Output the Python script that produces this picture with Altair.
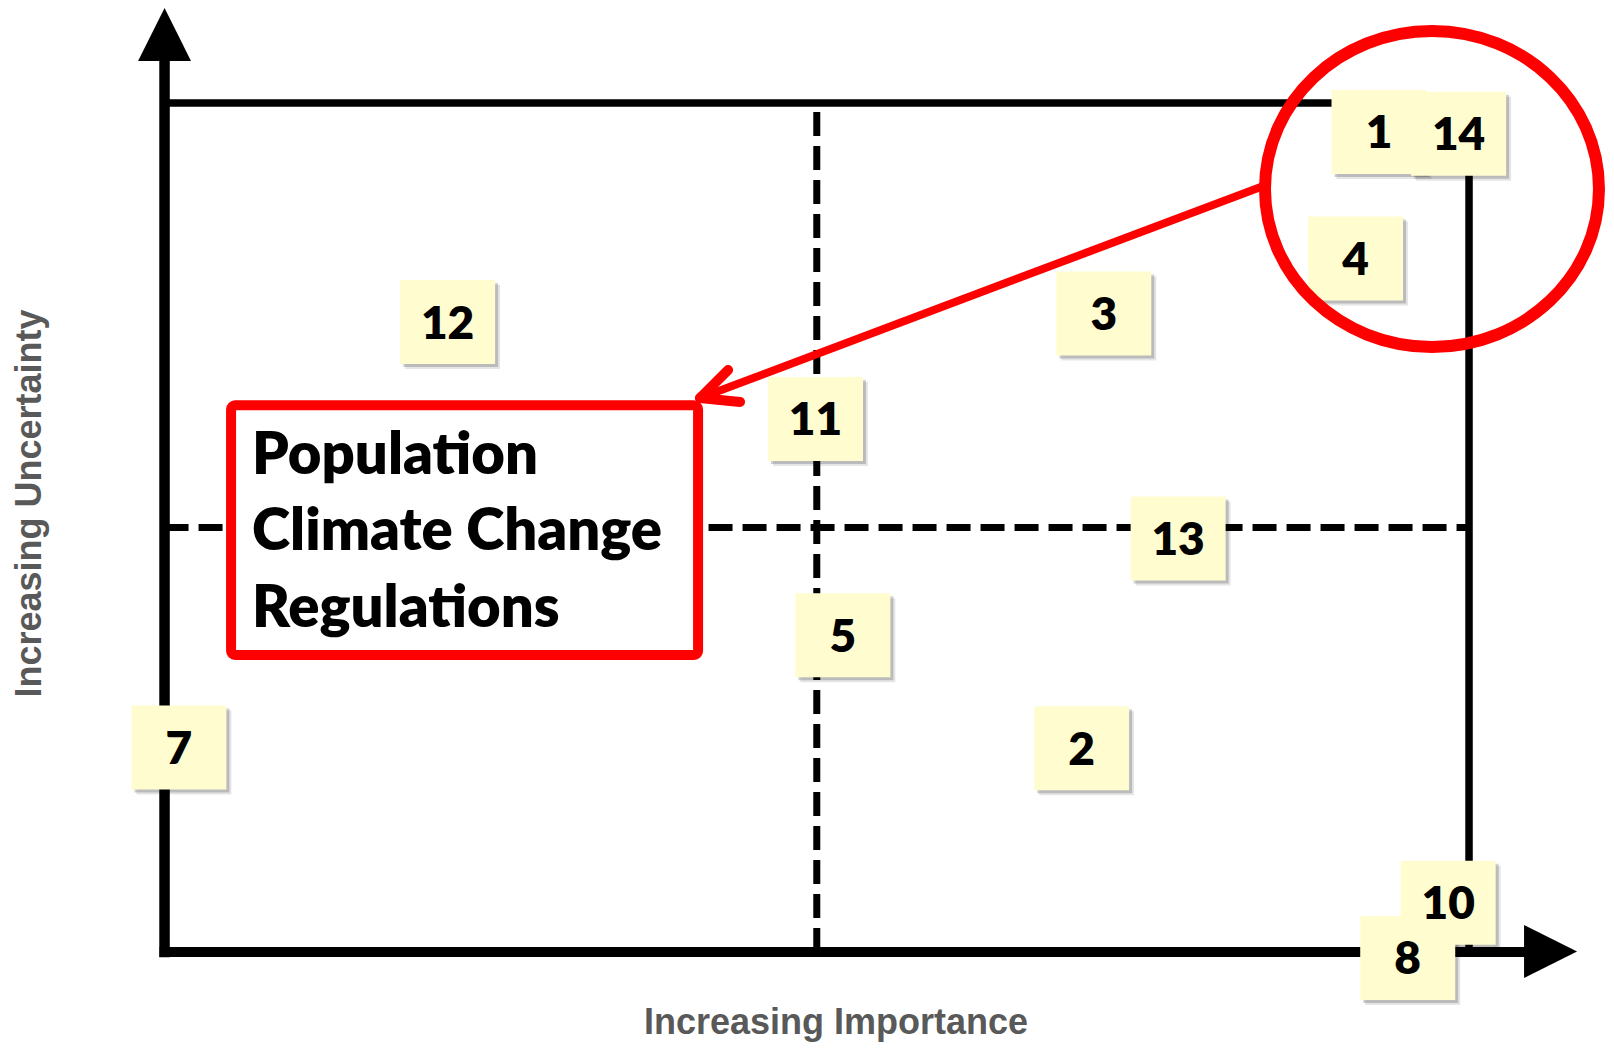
import altair as alt
import pandas as pd

# ---------------- data ----------------
note_labels = ["1", "14", "4", "3", "12", "11", "13", "5", "2", "7", "8", "10"]
note_importance = [9.31, 9.92, 9.13, 7.20, 2.17, 4.99, 7.77, 5.20, 7.03, 0.11, 9.53, 9.84]
note_uncertainty = [9.66, 9.64, 8.17, 7.52, 7.42, 6.28, 4.87, 3.73, 2.40, 2.41, -0.07, 0.58]

box_lines = ["Population", "Climate Change", "Regulations"]
box_line_y = [5.63, 4.74, 3.83]

x_title = "Increasing Importance"
y_title = "Increasing Uncertainty"

# ---------------- layout ----------------
W, H = 1598, 1034
X_DOMAIN = [-1.2, 11.05]
Y_DOMAIN = [-1.06, 11.12]
PX_X = W / (X_DOMAIN[1] - X_DOMAIN[0])
PX_Y = H / (Y_DOMAIN[1] - Y_DOMAIN[0])

xs = alt.Scale(domain=X_DOMAIN, nice=False, zero=False)
ys = alt.Scale(domain=Y_DOMAIN, nice=False, zero=False)

def X(f):
    return alt.X(f, type="quantitative", scale=xs, axis=None)

def Y(f):
    return alt.Y(f, type="quantitative", scale=ys, axis=None)

HW = 47.5 / PX_X
HH = 42.0 / PX_Y

notes = pd.DataFrame({"label": note_labels, "imp": note_importance, "unc": note_uncertainty})
notes["x1"] = notes["imp"] - HW
notes["x2"] = notes["imp"] + HW
notes["y1"] = notes["unc"] - HH
notes["y2"] = notes["unc"] + HH

def shadow(dx, dy):
    s = notes.copy()
    s["x1"] += dx / PX_X
    s["x2"] += dx / PX_X
    s["y1"] -= dy / PX_Y
    s["y2"] -= dy / PX_Y
    return s

# frame lines (solid)
frame = pd.DataFrame({
    "x": [0, 0, 0, 10], "x2": [0, 10.42, 10, 10],
    "y": [0, 0, 10, 0], "y2": [10.5, 0, 10, 10],
    "w": [10.5, 10, 7.5, 7.5],
})
frame_layer = alt.Chart(frame).mark_rule(color="black", strokeCap="square").encode(
    x=X("x"), x2="x2", y=Y("y"), y2="y2",
    strokeWidth=alt.StrokeWidth("w:Q", scale=None, legend=None),
)

dashed = pd.DataFrame({"x": [5, 0], "x2": [5, 10], "y": [0, 5], "y2": [10, 5]})
dash_layer = alt.Chart(dashed).mark_rule(color="black", strokeWidth=7, strokeDash=[24, 10]).encode(
    x=X("x"), x2="x2", y=Y("y"), y2="y2"
)

up_arrow = alt.Chart(pd.DataFrame({"x": [0], "y": [10.808]})).mark_point(
    shape="M0,-1L1,1L-1,1Z", size=2809, filled=True, color="black", opacity=1, strokeWidth=0
).encode(x=X("x"), y=Y("y"))

right_arrow = alt.Chart(pd.DataFrame({"x": [10.625], "y": [0.006]})).mark_point(
    shape="M1,0L-1,-1L-1,1Z", size=2809, filled=True, color="black", opacity=1, strokeWidth=0
).encode(x=X("x"), y=Y("y"))

# red box
box = pd.DataFrame({"x": [0.51], "x2": [4.09], "y": [3.50], "y2": [6.44]})
box_layer = alt.Chart(box).mark_rect(
    fill="white", stroke="#FF0000", strokeWidth=10, cornerRadius=4
).encode(x=X("x"), x2="x2", y=Y("y"), y2="y2")

box_text = pd.DataFrame({"t": box_lines, "x": [0.671] * 3, "y": box_line_y})
box_text_layer = alt.Chart(box_text).mark_text(
    font="Lato", fontWeight=800, fontSize=58, align="left", baseline="alphabetic", color="black"
).encode(x=X("x"), y=Y("y"), text="t:N")

# red arrow
shaft = pd.DataFrame({"x": [8.444], "x2": [4.105], "y": [9.035], "y2": [6.526]})
shaft_layer = alt.Chart(shaft).mark_rule(color="#FF0000", strokeWidth=8, strokeCap="round").encode(
    x=X("x"), x2="x2", y=Y("y"), y2="y2"
)
arms = pd.DataFrame({"x": [4.105, 4.105], "x2": [4.320, 4.412], "y": [6.526, 6.526], "y2": [6.856, 6.479]})
arms_layer = alt.Chart(arms).mark_rule(color="#FF0000", strokeWidth=10, strokeCap="round").encode(
    x=X("x"), x2="x2", y=Y("y"), y2="y2"
)

# notes
sh1 = alt.Chart(shadow(5, 5)).mark_rect(color="black", opacity=0.10).encode(
    x=X("x1"), x2="x2", y=Y("y1"), y2="y2")
sh2 = alt.Chart(shadow(3, 3)).mark_rect(color="black", opacity=0.18).encode(
    x=X("x1"), x2="x2", y=Y("y1"), y2="y2")
note_rect = alt.Chart(notes).mark_rect(color="#FFFDD0", opacity=1).encode(
    x=X("x1"), x2="x2", y=Y("y1"), y2="y2")
note_text = alt.Chart(notes).mark_text(
    font="Lato", fontWeight=800, fontSize=46, align="center", baseline="alphabetic", dy=16.5, color="black"
).encode(x=X("imp"), y=Y("unc"), text="label:N")

# red circle
circle = alt.Chart(pd.DataFrame({"x": [9.716], "y": [8.988]})).mark_point(
    shape="M-1,0A1,0.946,0,1,0,1,0A1,0.946,0,1,0,-1,0Z", size=111556, filled=False,
    stroke="#FF0000", strokeWidth=12, opacity=1
).encode(x=X("x"), y=Y("y"))

# axis titles
xt = alt.Chart(pd.DataFrame({"t": [x_title], "x": [5.148], "y": [-0.966]})).mark_text(
    font="Liberation Sans", fontWeight="bold", fontSize=36, color="#595959", align="center", baseline="alphabetic"
).encode(x=X("x"), y=Y("y"), text="t:N")
yt = alt.Chart(pd.DataFrame({"t": [y_title], "x": [-0.947], "y": [5.283]})).mark_text(
    font="Liberation Sans", fontWeight="bold", fontSize=36, color="#595959", align="center",
    baseline="alphabetic", angle=270
).encode(x=X("x"), y=Y("y"), text="t:N")

chart = alt.layer(
    frame_layer, dash_layer, up_arrow, right_arrow,
    box_layer, box_text_layer, shaft_layer, arms_layer,
    sh1, sh2, note_rect, note_text, circle, xt, yt,
).properties(
    width=W, height=H, padding=0, autosize=alt.AutoSizeParams(type="none")
).configure_view(strokeWidth=0)

chart.save("out.html", embed_options={"renderer": "svg", "actions": False})
